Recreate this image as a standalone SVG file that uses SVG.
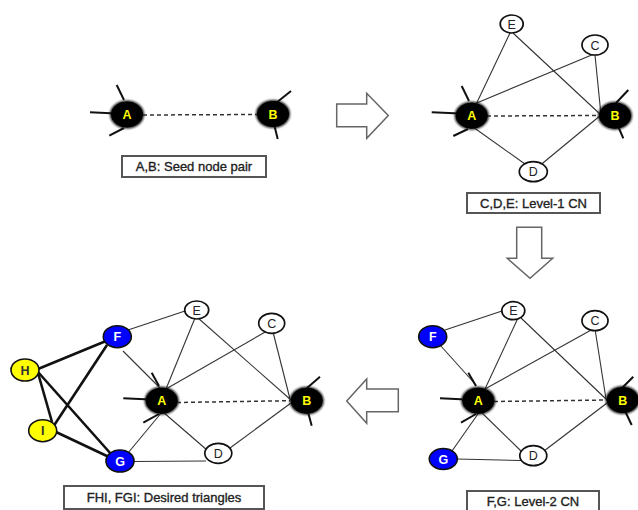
<svg xmlns="http://www.w3.org/2000/svg" width="638" height="510" viewBox="0 0 638 510">
  <defs>
    <filter id="soft" x="-30%" y="-30%" width="160%" height="160%">
      <feGaussianBlur stdDeviation="1.2"/>
    </filter>
  </defs>
  <style>
    .edge { stroke: #333; stroke-width: 1.1; fill: none; }
    .thick { stroke: #111; stroke-width: 2.6; fill: none; }
    .dash { stroke: #333; stroke-width: 1.5; stroke-dasharray: 4 3; fill: none; }
    .stub { stroke: #111; stroke-width: 2; fill: none; }
    .seed .halo { fill: #111; filter: url(#soft); }
    .seed ellipse.body { fill: #000; stroke: #000; stroke-width: 1; }
    .seed text { fill: #ffff00; font-weight: bold; font-size: 12.5px; }
    .plain ellipse { fill: #fff; stroke: #111; stroke-width: 1.7; }
    .plain text { fill: #222; font-size: 12.5px; }
    .blue ellipse { fill: #0000ff; stroke: #111; stroke-width: 1.6; }
    .blue text { fill: #fff; font-weight: bold; font-size: 12.5px; }
    .yellow ellipse { fill: #ffff00; stroke: #111; stroke-width: 1.6; }
    .yellow text { fill: #333; font-weight: bold; font-size: 12.5px; }
    text { font-family: "Liberation Sans", Arial, sans-serif; font-size: 12px; text-anchor: middle; dominant-baseline: central; }
    .caption rect { fill: #fff; stroke: #555; stroke-width: 2; }
    .caption text { font-size: 13px; fill: #222; stroke: #222; stroke-width: 0.35; }
    .arrow { fill: #fff; stroke: #666; stroke-width: 1.5; stroke-linejoin: miter; }
  </style>

  <rect width="638" height="510" fill="#fff"/>

  <!-- Panel 1: seed pair -->
  <g id="connectors-1">
    <line class="dash" x1="143" y1="115" x2="257" y2="114.5"/>
    <line class="stub" x1="116.7" y1="85" x2="124" y2="100"/>
    <line class="stub" x1="90" y1="112.3" x2="116" y2="113.5"/>
    <line class="stub" x1="109.3" y1="135.7" x2="124" y2="128"/>
    <line class="stub" x1="291" y1="91" x2="276" y2="103"/>
    <line class="stub" x1="277.7" y1="139" x2="274" y2="124"/>
  </g>
  <g id="p1-A" class="seed"><ellipse class="halo" cx="127" cy="114.5" rx="17" ry="14"/><ellipse class="body" cx="127" cy="114.5" rx="15.5" ry="12.5"/><text x="127" y="115">A</text></g>
  <g id="p1-B" class="seed"><ellipse class="halo" cx="273" cy="114" rx="17" ry="14"/><ellipse class="body" cx="273" cy="114" rx="15.5" ry="12.5"/><text x="273" y="114.5">B</text></g>
  <g id="caption-1" class="caption"><rect x="122" y="156" width="144" height="21"/><text x="194" y="166.5">A,B: Seed node pair</text></g>

  <!-- Step arrows -->
  <g id="arrow-right"><polygon class="arrow" points="336.7,104 366.7,104 366.7,93.3 388.3,115.5 366.7,138.3 366.7,126.7 336.7,126.7"/></g>
  <g id="arrow-down"><polygon class="arrow" points="516.7,227.3 541.7,227.3 541.7,258.3 552.7,258.3 530,278.3 507.3,258.3 516.7,258.3"/></g>
  <g id="arrow-left"><polygon class="arrow" points="346.7,401 366.7,379 366.7,389 398.3,389 398.3,411.7 366.7,411.7 366.7,423.3"/></g>

  <!-- Panel 2: level-1 common neighbours -->
  <g id="connectors-2">
    <line class="edge" x1="510" y1="33" x2="476.7" y2="103"/>
    <line class="edge" x1="513" y1="33" x2="601" y2="115"/>
    <line class="edge" x1="591.7" y1="55" x2="476.7" y2="103"/>
    <line class="edge" x1="595" y1="55" x2="601" y2="115"/>
    <line class="edge" x1="473" y1="127" x2="525" y2="164"/>
    <line class="edge" x1="541.7" y1="164" x2="601" y2="115"/>
    <line class="dash" x1="487" y1="116" x2="600" y2="115.5"/>
    <line class="stub" x1="461.7" y1="86" x2="469" y2="101"/>
    <line class="stub" x1="431.7" y1="112.3" x2="460" y2="113.5"/>
    <line class="stub" x1="453.3" y1="136" x2="468" y2="129"/>
    <line class="stub" x1="628.3" y1="90" x2="616" y2="103"/>
    <line class="stub" x1="623.3" y1="138.3" x2="618" y2="126"/>
  </g>
  <g id="p2-E" class="plain"><ellipse cx="511.7" cy="24" rx="11.5" ry="9"/><text x="511.7" y="24.5">E</text></g>
  <g id="p2-C" class="plain"><ellipse cx="595" cy="45" rx="13" ry="10"/><text x="595" y="45.5">C</text></g>
  <g id="p2-D" class="plain"><ellipse cx="533.3" cy="171.7" rx="14" ry="10"/><text x="533.3" y="172.2">D</text></g>
  <g id="p2-A" class="seed"><ellipse class="halo" cx="471.7" cy="115.7" rx="17" ry="14"/><ellipse class="body" cx="471.7" cy="115.7" rx="15.5" ry="12.5"/><text x="471.7" y="116.2">A</text></g>
  <g id="p2-B" class="seed"><ellipse class="halo" cx="615" cy="115.7" rx="17" ry="14"/><ellipse class="body" cx="615" cy="115.7" rx="15.5" ry="12.5"/><text x="615" y="116.2">B</text></g>
  <g id="caption-2" class="caption"><rect x="467" y="193" width="133" height="20"/><text x="533.5" y="203">C,D,E: Level-1 CN</text></g>

  <!-- Panel 3: level-2 common neighbours -->
  <g id="connectors-3">
    <line class="edge" x1="445" y1="330" x2="502" y2="311"/>
    <line class="edge" x1="440" y1="345" x2="476" y2="385"/>
    <line class="edge" x1="518" y1="318" x2="485" y2="389"/>
    <line class="edge" x1="521" y1="318" x2="607" y2="400"/>
    <line class="edge" x1="593" y1="329" x2="485" y2="389"/>
    <line class="edge" x1="595" y1="329" x2="606" y2="399"/>
    <line class="edge" x1="480" y1="411" x2="522" y2="452"/>
    <line class="edge" x1="480" y1="411" x2="452" y2="451"/>
    <line class="edge" x1="457" y1="459" x2="521" y2="460.5"/>
    <line class="edge" x1="544" y1="451" x2="607" y2="403"/>
    <line class="dash" x1="494" y1="401.5" x2="607" y2="400"/>
    <line class="stub" x1="468.3" y1="372.7" x2="476" y2="386"/>
    <line class="stub" x1="440" y1="398.3" x2="466" y2="399.5"/>
    <line class="stub" x1="461" y1="422.7" x2="476" y2="414"/>
    <line class="stub" x1="633.3" y1="376.7" x2="622" y2="388"/>
    <line class="stub" x1="631.7" y1="425" x2="625" y2="411"/>
  </g>
  <g id="p3-E" class="plain"><ellipse cx="513.3" cy="310.7" rx="11.5" ry="9"/><text x="513.3" y="311.2">E</text></g>
  <g id="p3-C" class="plain"><ellipse cx="595" cy="320.7" rx="13" ry="10"/><text x="595" y="321.2">C</text></g>
  <g id="p3-F" class="blue"><ellipse cx="432.7" cy="336.7" rx="14" ry="11"/><text x="432.7" y="337.2">F</text></g>
  <g id="p3-G" class="blue"><ellipse cx="443.3" cy="459" rx="14" ry="10.5"/><text x="443.3" y="459.5">G</text></g>
  <g id="p3-D" class="plain"><ellipse cx="533.3" cy="455.7" rx="13.5" ry="10"/><text x="533.3" y="456.2">D</text></g>
  <g id="p3-A" class="seed"><ellipse class="halo" cx="478.3" cy="400.7" rx="17" ry="14"/><ellipse class="body" cx="478.3" cy="400.7" rx="15.5" ry="12.5"/><text x="478.3" y="401.2">A</text></g>
  <g id="p3-B" class="seed"><ellipse class="halo" cx="622.7" cy="400" rx="17" ry="14"/><ellipse class="body" cx="622.7" cy="400" rx="15.5" ry="12.5"/><text x="622.7" y="400.5">B</text></g>
  <g id="caption-3" class="caption"><rect x="467" y="491" width="132" height="22"/><text x="533" y="501.5">F,G: Level-2 CN</text></g>

  <!-- Panel 4: resulting triangles -->
  <g id="connectors-4">
    <line class="edge" x1="128" y1="330" x2="185" y2="311"/>
    <line class="edge" x1="123" y1="351" x2="161" y2="389"/>
    <line class="edge" x1="195" y1="318" x2="166" y2="389"/>
    <line class="edge" x1="198" y1="318" x2="291" y2="400"/>
    <line class="edge" x1="267" y1="331" x2="166" y2="389"/>
    <line class="edge" x1="273" y1="332" x2="290" y2="399"/>
    <line class="edge" x1="163" y1="412" x2="207" y2="450"/>
    <line class="edge" x1="162" y1="412" x2="128" y2="453"/>
    <line class="edge" x1="133" y1="461.5" x2="206" y2="461"/>
    <line class="edge" x1="230" y1="448" x2="291" y2="403"/>
    <line class="dash" x1="177" y1="402.5" x2="290" y2="400.7"/>
    <line class="thick" x1="38" y1="369" x2="106" y2="341"/>
    <line class="thick" x1="38" y1="372" x2="111" y2="454"/>
    <line class="thick" x1="38" y1="373" x2="52" y2="422"/>
    <line class="thick" x1="53" y1="427" x2="107" y2="345"/>
    <line class="thick" x1="56" y1="432" x2="109" y2="457"/>
    <line class="stub" x1="151.7" y1="372.7" x2="159" y2="386"/>
    <line class="stub" x1="123.3" y1="398.3" x2="150" y2="399.5"/>
    <line class="stub" x1="143.3" y1="422.7" x2="159" y2="414"/>
    <line class="stub" x1="320" y1="376.7" x2="307" y2="388"/>
    <line class="stub" x1="311.7" y1="425.7" x2="308" y2="412"/>
  </g>
  <g id="p4-E" class="plain"><ellipse cx="196.7" cy="310" rx="12" ry="9"/><text x="196.7" y="310.5">E</text></g>
  <g id="p4-C" class="plain"><ellipse cx="271.7" cy="323.3" rx="13" ry="10"/><text x="271.7" y="323.8">C</text></g>
  <g id="p4-F" class="blue"><ellipse cx="117.3" cy="336.7" rx="14" ry="11"/><text x="117.3" y="337.2">F</text></g>
  <g id="p4-H" class="yellow"><ellipse cx="25" cy="370" rx="14" ry="11"/><text x="25" y="370.5">H</text></g>
  <g id="p4-I" class="yellow"><ellipse cx="42.7" cy="430.7" rx="14" ry="11"/><text x="42.7" y="431.2">I</text></g>
  <g id="p4-G" class="blue"><ellipse cx="120" cy="461" rx="14" ry="11"/><text x="120" y="461.5">G</text></g>
  <g id="p4-D" class="plain"><ellipse cx="218.3" cy="453.3" rx="13.5" ry="10"/><text x="218.3" y="453.8">D</text></g>
  <g id="p4-A" class="seed"><ellipse class="halo" cx="161.7" cy="400.7" rx="17" ry="14"/><ellipse class="body" cx="161.7" cy="400.7" rx="15.5" ry="12.5"/><text x="161.7" y="401.2">A</text></g>
  <g id="p4-B" class="seed"><ellipse class="halo" cx="306.7" cy="400.7" rx="17" ry="14"/><ellipse class="body" cx="306.7" cy="400.7" rx="15.5" ry="12.5"/><text x="306.7" y="401.2">B</text></g>
  <g id="caption-4" class="caption"><rect x="64" y="486" width="200" height="23"/><text x="164" y="497.5">FHI, FGI: Desired triangles</text></g>
</svg>
